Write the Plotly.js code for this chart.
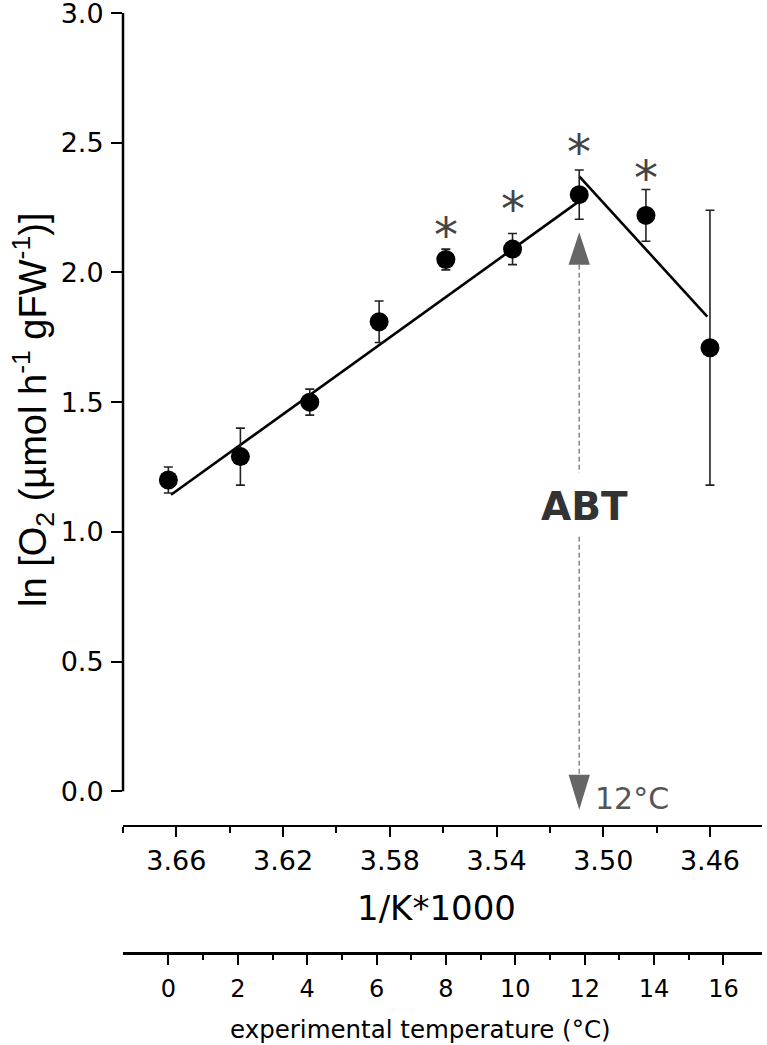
<!DOCTYPE html>
<html><head><meta charset="utf-8">
<script src="https://cdn.plot.ly/plotly-3.0.1.min.js"></script>
<style>html,body{margin:0;padding:0;background:#fff}#chart{width:767px;height:1045px}</style>
</head><body><div id="chart"></div>
<script>
// ---- data ----
const invK     = [3.663, 3.636, 3.610, 3.584, 3.559, 3.534, 3.509, 3.484, 3.460]; // 1/K*1000
const tempC    = [0, 2, 4, 6, 8, 10, 12, 14, 16];                                 // °C
const lnO2     = [1.20, 1.29, 1.50, 1.81, 2.05, 2.09, 2.30, 2.22, 1.71];
const sem      = [0.05, 0.11, 0.05, 0.08, 0.04, 0.06, 0.095, 0.10, 0.53];
const sigIdx   = [4, 5, 6, 7];
const sigStarY = [2.17, 2.27, 2.49, 2.39];
const fit1X = [3.662, 3.509], fit1Y = [1.143, 2.275];
const fit2X = [3.509, 3.461], fit2Y = [2.37, 1.83];
const abtInvK = 3.509;
const abtText = 'ABT', abtTemp = '12°C';
const tempMinor = [1, 3, 5, 7, 9, 11, 13, 15];
const yTitle = 'ln [O<sub>2</sub> (µmol h<sup>-1</sup> gFW<sup>-1</sup>)]';
const xTitle = '1/K*1000';
const x2Title = 'experimental temperature (°C)';

const F = 'DejaVu Sans, sans-serif';

const traces = [
  {x: fit1X, y: fit1Y, mode: 'lines', line: {color: '#000', width: 2.6}, hoverinfo: 'skip', showlegend: false},
  {x: fit2X, y: fit2Y, mode: 'lines', line: {color: '#000', width: 2.6}, hoverinfo: 'skip', showlegend: false},
  {x: invK, y: lnO2, mode: 'markers',
   marker: {color: '#000', size: 19},
   error_y: {type: 'data', array: sem, visible: true, color: '#222', thickness: 1.6, width: 4.5},
   showlegend: false, cliponaxis: false},
  {x: tempC, y: lnO2, xaxis: 'x2', yaxis: 'y', mode: 'none', hoverinfo: 'skip', showlegend: false}
];

const annotations = sigIdx.map((idx, k) => ({
  x: invK[idx], y: sigStarY[k], xref: 'x', yref: 'y', text: '*', showarrow: false,
  font: {family: F, size: 48, color: '#444'}, yshift: -7
}));
annotations.push(
  {x: abtInvK, y: 1.097, xref: 'x', yref: 'y', text: '<b>' + abtText + '</b>', showarrow: false,
   xshift: 5, font: {family: F, size: 39, color: '#333'}},
  {x: abtInvK, y: -0.029, xref: 'x', yref: 'y', text: abtTemp, showarrow: false, xanchor: 'left',
   xshift: 14, font: {family: F, size: 30, color: '#555'}},
  {x: -0.142, y: 0.578, xref: 'paper', yref: 'paper', xanchor: 'center', yanchor: 'middle',
   text: yTitle, textangle: -90, showarrow: false,
   font: {family: 'Liberation Sans, Arial, sans-serif', size: 38, color: '#000'}},
  {x: 0.491, y: 0.0484, xref: 'paper', yref: 'paper', xanchor: 'center', yanchor: 'middle',
   text: xTitle, showarrow: false, font: {family: F, size: 34, color: '#000'}},
  {x: 0.465, y: -0.081, xref: 'paper', yref: 'paper', xanchor: 'center', yanchor: 'middle',
   text: x2Title, showarrow: false, font: {family: F, size: 24.5, color: '#000'}}
);

const hw = 0.004;
const shapes = [
  {type: 'line', xref: 'paper', yref: 'y', x0: 0, x1: 0, y0: 0, y1: 3, line: {color: '#000', width: 2.5}},
  {type: 'path', xref: 'x', yref: 'y', path: `M${abtInvK - hw},2.03 L${abtInvK + hw},2.03 L${abtInvK},2.155 Z`,
   fillcolor: '#666', line: {width: 0}},
  {type: 'line', xref: 'x', yref: 'y', x0: abtInvK, x1: abtInvK, y0: 2.03, y1: 1.227,
   line: {color: '#888', width: 1.5, dash: '5px,3px'}},
  {type: 'line', xref: 'x', yref: 'y', x0: abtInvK, x1: abtInvK, y0: 0.981, y1: 0.064,
   line: {color: '#888', width: 1.5, dash: '5px,3px'}},
  {type: 'path', xref: 'x', yref: 'y', path: `M${abtInvK - hw},0.064 L${abtInvK + hw},0.064 L${abtInvK},-0.071 Z`,
   fillcolor: '#666', line: {width: 0}}
];

const layout = {
  width: 767, height: 1045,
  margin: {l: 123, r: 5, t: 13, b: 92, pad: 0},
  paper_bgcolor: '#fff', plot_bgcolor: '#fff',
  showlegend: false,
  font: {family: F, color: '#000'},
  yaxis: {
    domain: [0.1365, 1], range: [-0.129, 3.0002],
    tick0: 0, dtick: 0.5, tickformat: '.1f',
    ticks: 'outside', ticklen: 11, tickwidth: 2, tickcolor: '#000',
    showline: false, zeroline: false, showgrid: false,
    ticklabeloverflow: 'allow',
    tickfont: {family: F, size: 27, color: '#000'}, ticklabelstandoff: 2
  },
  xaxis: {
    range: [3.68, 3.4405], anchor: 'y',
    tick0: 3.66, dtick: 0.04, tickformat: '.2f',
    ticks: 'outside', ticklen: 10, tickwidth: 2, tickcolor: '#000',
    minor: {dtick: 0.02, ticks: 'outside', ticklen: 6, tickwidth: 2, tickcolor: '#000'},
    showline: true, linewidth: 2.5, linecolor: '#000',
    zeroline: false, showgrid: false,
    tickfont: {family: F, size: 27, color: '#000'}
  },
  xaxis2: {
    overlaying: 'x', anchor: 'free', position: 0, side: 'bottom',
    range: [-1.31, 17.11], tick0: 0, dtick: 2,
    ticks: 'outside', ticklen: 10, tickwidth: 2, tickcolor: '#000',
    minor: {tickmode: 'array', tickvals: tempMinor, ticks: 'outside', ticklen: 5, tickwidth: 2, tickcolor: '#000'},
    showline: true, linewidth: 2.5, linecolor: '#000',
    zeroline: false, showgrid: false,
    tickfont: {family: F, size: 24, color: '#000'}, ticklabelstandoff: 4
  },
  annotations: annotations,
  shapes: shapes
};

Plotly.newPlot('chart', traces, layout, {displayModeBar: false, staticPlot: true});
</script>
</body></html>
